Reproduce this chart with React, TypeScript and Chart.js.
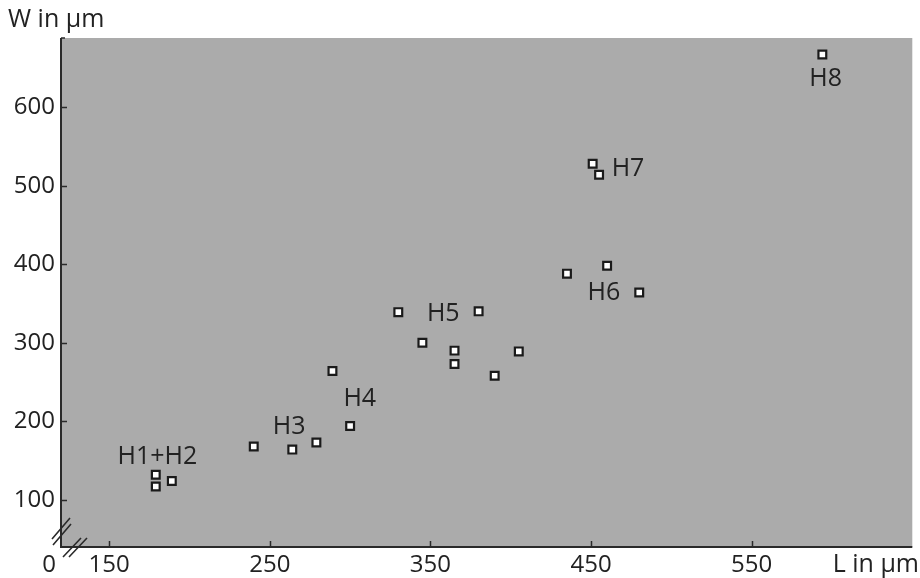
import React, { useEffect, useRef } from "react";
import { Chart, registerables } from "chart.js";

Chart.register(...registerables);

// Measured specimens: length L and width W in µm
const lengths = [179, 179, 189, 240, 264, 279, 289, 300, 330, 345, 365, 365, 380, 390, 405, 435, 460, 480, 451, 455, 594];
const widths = [132, 117, 124, 168, 164, 173, 264, 194, 339, 300, 290, 273, 340, 258, 289, 388, 398, 364, 528, 514, 667];

// Group annotations (data coordinates of the label centres)
const groupNames = ["H1+H2", "H3", "H4", "H5", "H6", "H7", "H8"];
const groupLabelL = [180, 262, 306, 358, 458, 473, 596];
const groupLabelW = [155, 193, 229, 337, 363, 521, 636];

const xTicks = [150, 250, 350, 450, 550];
const yTicks = [100, 200, 300, 400, 500, 600];
const xMin = 120;
const xMax = 650;
const yMin = 40;
const yMax = 688;

const FONT = "'Open Sans', 'DejaVu Sans', sans-serif";
const TEXT = "#222222";
const AXIS = "#2a2a2a";

const decorPlugin = {
  id: "decor",
  beforeDatasetsDraw(chart: any) {
    const { ctx, chartArea } = chart;
    ctx.save();
    ctx.fillStyle = "#ababab";
    ctx.fillRect(chartArea.left, chartArea.top, chartArea.right - chartArea.left, chartArea.bottom - chartArea.top);
    ctx.restore();
  },
  afterDraw(chart: any) {
    const { ctx, chartArea, scales } = chart;
    const { left, right, top, bottom } = chartArea;
    const xs = scales.x;
    const ys = scales.y;
    ctx.save();
    // axis lines
    ctx.strokeStyle = AXIS;
    ctx.lineWidth = 2;
    ctx.beginPath();
    ctx.moveTo(left, top);
    ctx.lineTo(left, bottom);
    ctx.lineTo(right, bottom);
    ctx.stroke();
    // inward ticks
    ctx.lineWidth = 1.5;
    ctx.beginPath();
    xTicks.forEach((v) => {
      const px = Math.round(xs.getPixelForValue(v)) + 0.5;
      ctx.moveTo(px, bottom);
      ctx.lineTo(px, bottom - 6);
    });
    yTicks.forEach((v) => {
      const py = Math.round(ys.getPixelForValue(v)) + 0.5;
      ctx.moveTo(left, py);
      ctx.lineTo(left + 6, py);
    });
    ctx.moveTo(left, top);
    ctx.lineTo(left + 4, top);
    ctx.stroke();
    // axis break marks
    ctx.lineWidth = 1.6;
    ctx.strokeStyle = AXIS;
    ctx.beginPath();
    ctx.moveTo(left - 9, bottom - 8);
    ctx.lineTo(left + 9, bottom - 29);
    ctx.moveTo(left - 8, bottom - 2);
    ctx.lineTo(left + 10, bottom - 23);
    ctx.moveTo(left + 2, bottom + 10);
    ctx.lineTo(left + 20, bottom - 9);
    ctx.moveTo(left + 8, bottom + 10);
    ctx.lineTo(left + 26, bottom - 9);
    ctx.stroke();
    // texts
    ctx.fillStyle = TEXT;
    ctx.textBaseline = "middle";
    ctx.font = `24px ${FONT}`;
    ctx.textAlign = "center";
    ctx.fillText("0", left - 12, bottom + 18);
    ctx.font = `25px ${FONT}`;
    ctx.textAlign = "left";
    ctx.fillText("W in µm", 8, 20);
    ctx.textAlign = "right";
    ctx.fillText("L in µm", 919, bottom + 18);
    ctx.textAlign = "center";
    groupNames.forEach((name, i) => {
      ctx.fillText(name, xs.getPixelForValue(groupLabelL[i]), ys.getPixelForValue(groupLabelW[i]));
    });
    ctx.restore();
  },
};

export default function App() {
  const canvasRef = useRef<HTMLCanvasElement | null>(null);

  useEffect(() => {
    const canvas = canvasRef.current;
    if (!canvas) return;
    const points = lengths.map((l, i) => ({ x: l, y: widths[i] }));
    const chart = new Chart(canvas, {
      type: "scatter",
      data: {
        datasets: [
          {
            data: points,
            pointStyle: "rect",
            pointRadius: 5.5,
            pointHoverRadius: 5.5,
            borderWidth: 2.2,
            borderColor: "#1a1a1a",
            backgroundColor: "#ffffff",
          },
        ],
      },
      options: {
        responsive: false,
        animation: false,
        events: [],
        layout: { padding: { top: 38, right: 3, left: 0, bottom: 0 } },
        plugins: { legend: { display: false }, tooltip: { enabled: false } },
        scales: {
          x: {
            type: "linear",
            min: xMin,
            max: xMax,
            grid: { display: false, drawTicks: false },
            border: { display: false },
            afterBuildTicks: (s: any) => {
              s.ticks = xTicks.map((v) => ({ value: v }));
            },
            afterFit: (s: any) => {
              s.height = 31;
            },
            ticks: {
              color: TEXT,
              font: { family: FONT, size: 24 },
              padding: 4,
              maxRotation: 0,
              autoSkip: false,
            },
          },
          y: {
            type: "linear",
            min: yMin,
            max: yMax,
            grid: { display: false, drawTicks: false },
            border: { display: false },
            afterBuildTicks: (s: any) => {
              s.ticks = yTicks.map((v) => ({ value: v }));
            },
            afterFit: (s: any) => {
              s.width = 61;
            },
            ticks: {
              color: TEXT,
              font: { family: FONT, size: 24 },
              padding: 6,
              autoSkip: false,
            },
          },
        },
      },
      plugins: [decorPlugin],
    });
    return () => chart.destroy();
  }, []);

  return (
    <div style={{ position: "absolute", left: 0, top: 0, width: 920, height: 578, background: "#ffffff" }}>
      <canvas ref={canvasRef} width={920} height={578} style={{ display: "block" }} />
    </div>
  );
}
